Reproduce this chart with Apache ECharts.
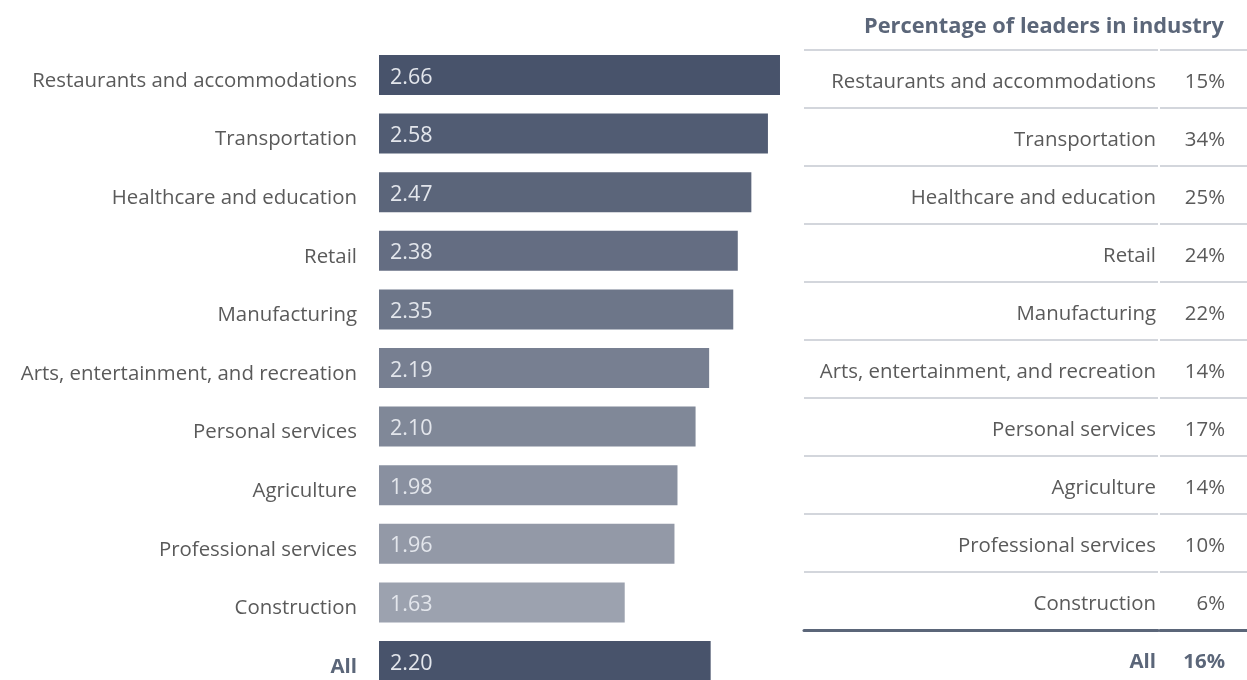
<!DOCTYPE html>
<html>
<head>
<meta charset="utf-8">
<script src="https://cdn.jsdelivr.net/npm/echarts@6/dist/echarts.min.js"></script>
<style>
  html, body { margin: 0; padding: 0; background: #ffffff; }
  #chart { width: 1247px; height: 680px; }
</style>
</head>
<body>
<div id="chart"></div>
<script>
// Industries, ordered top to bottom
const industries = [
  'Restaurants and accommodations',
  'Transportation',
  'Healthcare and education',
  'Retail',
  'Manufacturing',
  'Arts, entertainment, and recreation',
  'Personal services',
  'Agriculture',
  'Professional services',
  'Construction'
];
const totalLabel = 'All';

// Average score per industry, and overall
const scores = [2.66, 2.58, 2.47, 2.38, 2.35, 2.19, 2.10, 1.98, 1.96, 1.63];
const scoreAll = 2.20;

// Share of leaders in each industry (percent), and overall
const leaderShare = [15, 34, 25, 24, 22, 14, 17, 14, 10, 6];
const leaderShareAll = 16;

const tableTitle = 'Percentage of leaders in industry';

const FONT = '"Open Sans", "Noto Sans", sans-serif';
const TEXT = '#5a5a5a';
const ACCENT = '#5b6679';
const DARK = [0x48, 0x53, 0x6b];
const LIGHT = [0x9c, 0xa2, 0xaf];
const LABEL_SIZE = 20.4;

function shade(i, n) {
  const t = n > 1 ? i / (n - 1) : 0;
  const c = DARK.map((d, k) => Math.round(d + (LIGHT[k] - d) * t));
  return 'rgb(' + c.join(',') + ')';
}

// rich-text styles shared by all row labels (pushed slightly below the row centre)
const rich = (shift) => ({
  n: { fontSize: LABEL_SIZE, color: TEXT, fontFamily: FONT, padding: [shift, 0, 0, 0] },
  b: { fontSize: LABEL_SIZE, color: ACCENT, fontFamily: FONT, fontWeight: 'bold', padding: [shift, 0, 0, 0] }
});
const asRow = (style) => (v) => '{' + style + '|' + v + '}';

const barCats = industries.concat([totalLabel]);
const barData = scores.map((v, i) => ({ value: v, itemStyle: { color: shade(i, scores.length) } }))
  .concat([{ value: scoreAll, itemStyle: { color: 'rgb(72,83,107)' } }]);

const tableRowH = 58;
const tableTop = 50;
const totalTop = tableTop + tableRowH * 10;

const hiddenX = (gridIndex) => ({
  type: 'value', gridIndex, min: 0, max: 1, show: false
});
const totalRuleX = (gridIndex) => ({
  type: 'value', gridIndex, min: 0, max: 1, position: 'top',
  axisLine: { show: true, lineStyle: { color: '#5b6679', width: 3 } },
  axisTick: { show: false }, axisLabel: { show: false }, splitLine: { show: false }
});
const rowRule = { show: true, interval: 0, lineStyle: { color: '#c5c9d1', width: 1.5 } };
const noAxis = { axisLine: { show: false }, axisTick: { show: false } };

const option = {
  animation: false,
  textStyle: { fontFamily: FONT },
  title: {
    text: tableTitle,
    right: 18,
    top: 11,
    textStyle: { fontFamily: FONT, fontSize: 21.8, fontWeight: 'bold', color: ACCENT }
  },
  grid: [
    // bar chart: first and last row centres sit on the grid edges
    { left: 379, top: 75, width: 150.75 * 3, height: 586 },
    // table: names column, industry rows
    { left: 804, top: tableTop, width: 354, height: tableRowH * 10 },
    // table: percent column, industry rows
    { left: 1160, top: tableTop, width: 87, height: tableRowH * 10 },
    // table: names column, total row
    { left: 804, top: totalTop, width: 354, height: 680 - totalTop },
    // table: percent column, total row
    { left: 1160, top: totalTop, width: 87, height: 680 - totalTop }
  ],
  xAxis: [
    { type: 'value', gridIndex: 0, min: 0, max: 3, show: false },
    hiddenX(1),
    hiddenX(2),
    totalRuleX(3),
    totalRuleX(4)
  ],
  yAxis: [
    Object.assign({
      type: 'category', gridIndex: 0, inverse: true, data: barCats, boundaryGap: false,
      axisLabel: {
        margin: 22,
        formatter: (v) => v === totalLabel ? '{b|' + v + '}' : '{n|' + v + '}',
        rich: rich(12)
      }
    }, noAxis),
    Object.assign({
      type: 'category', gridIndex: 1, inverse: true, data: industries, position: 'right',
      axisLabel: { inside: true, margin: 2, formatter: asRow('n'), rich: rich(7) },
      splitLine: rowRule
    }, noAxis),
    Object.assign({
      type: 'category', gridIndex: 2, inverse: true,
      data: leaderShare.map((v) => v + '%'), position: 'right',
      axisLabel: { inside: true, margin: 22, formatter: asRow('n'), rich: rich(7) },
      splitLine: rowRule
    }, noAxis),
    Object.assign({
      type: 'category', gridIndex: 3, data: [totalLabel], position: 'right',
      axisLabel: { inside: true, margin: 2, formatter: asRow('b'), rich: rich(14) }
    }, noAxis),
    Object.assign({
      type: 'category', gridIndex: 4, data: [leaderShareAll + '%'], position: 'right',
      axisLabel: { inside: true, margin: 22, formatter: asRow('b'), rich: rich(14) }
    }, noAxis)
  ],
  series: [
    {
      type: 'bar', xAxisIndex: 0, yAxisIndex: 0,
      barWidth: 40,
      data: barData,
      label: {
        show: true, position: 'insideLeft', distance: 11,
        formatter: (p) => '{v|' + p.value.toFixed(2) + '}',
        rich: { v: { fontSize: 21.5, color: '#e3e6ec', fontFamily: FONT, padding: [5, 0, 0, 0] } }
      }
    }
  ]
};

const chart = echarts.init(document.getElementById('chart'), null, { renderer: 'canvas' });
chart.setOption(option);
</script>
</body>
</html>
